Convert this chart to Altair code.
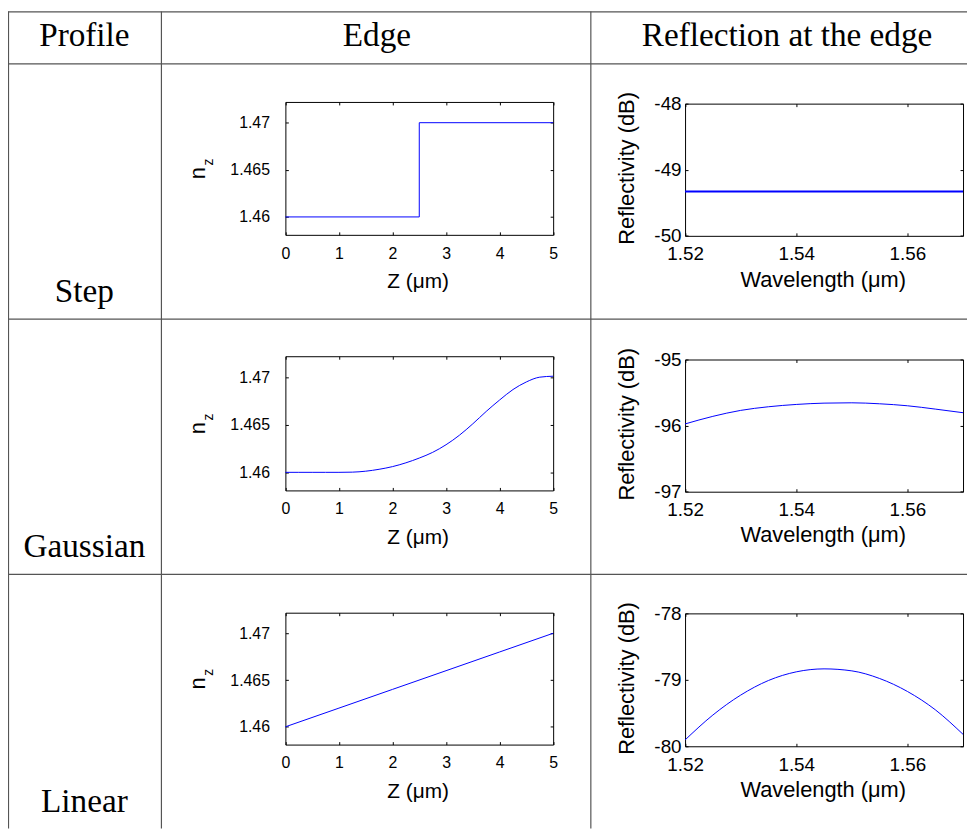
import altair as alt
import pandas as pd

W, H = 967, 824

# ---------------- data ----------------
step_z = [0.0, 2.5, 2.5, 5.0]
step_n = [1.46, 1.46, 1.47, 1.47]

gauss_z = [0.0, 0.25, 0.5, 0.75, 1.0, 1.25, 1.5, 1.75, 2.0, 2.25, 2.5,
           2.75, 3.0, 3.25, 3.5, 3.75, 4.0, 4.25, 4.5, 4.75, 5.0]
gauss_n = [1.4600, 1.4600, 1.4600, 1.4600, 1.4600, 1.46002, 1.46012, 1.46032,
           1.4606, 1.4610, 1.4615, 1.4621, 1.4629, 1.4639, 1.4651, 1.4664,
           1.4676, 1.4687, 1.4695, 1.4700, 1.4701]

lin_z = [0, 1, 2, 3, 4, 5]
lin_n = [1.460, 1.462, 1.464, 1.466, 1.468, 1.470]

wl_step = [1.52, 1.57]
refl_step = [-49.33, -49.33]

wl = [1.52, 1.525, 1.53, 1.535, 1.54, 1.545, 1.55, 1.555, 1.56, 1.565, 1.57]
refl_gauss = [-95.975, -95.86, -95.77, -95.715, -95.68, -95.66,
              -95.655, -95.67, -95.70, -95.75, -95.805]
refl_lin = [-79.905, -79.53, -79.23, -79.01, -78.88, -78.835,
            -78.865, -78.98, -79.175, -79.45, -79.82]

z_ticks = [0, 1, 2, 3, 4, 5]
n_ticks = [1.46, 1.465, 1.47]
wl_ticks = [1.52, 1.54, 1.56]
refl_ticks = [[-50, -49, -48], [-97, -96, -95], [-80, -79, -78]]
refl_domains = [[-50, -48], [-97, -95], [-80, -78]]

header = ["Profile", "Edge", "Reflection at the edge"]
profiles = ["Step", "Gaussian", "Linear"]

# ---------------- layout (pixels in the view) ----------------
LEFT_X = [279.7, 549.7]
RIGHT_X = [682.7, 963.0]
LEFT_Y = [(225.3, 91.3), (483.0, 347.7), (739.3, 606.3)]
RIGHT_Y = [(226.3, 93.0), (484.3, 351.0), (741.0, 607.0)]
N_DOMAIN = [1.4581, 1.4722]
WL_DOMAIN = [1.52, 1.57]

SANS = "Liberation Sans"
SERIF = "Liberation Serif"
BLUE = "#0000ff"


def plot_layers(df, xf, yf, xdom, xr, ydom, yr, xvals, yvals, lab_fs,
                xlabpad, ylabpad, xtitle, xtitle_x, xtitle_y,
                ytitle, ytitle_x, ytitle_y, title_fs, stroke_w, interp, order=None):
    xs = alt.Scale(domain=xdom, range=list(xr), zero=False, nice=False)
    ys = alt.Scale(domain=ydom, range=list(yr), zero=False, nice=False)
    lab = "'' + datum.value"
    common = dict(grid=False, labelFlush=False, labelOverlap=False)

    ax1x = alt.Axis(orient="bottom", offset=yr[0] - H, ticks=False, tickSize=0,
                    domain=True, domainColor="black", domainWidth=1, labels=True,
                    labelFont=SANS, labelFontSize=lab_fs, labelColor="black",
                    labelPadding=xlabpad, labelExpr=lab, values=xvals,
                    title=xtitle, titleFont=SANS, titleFontSize=title_fs,
                    titleFontWeight="normal", titleColor="black",
                    titleX=xtitle_x, titleY=xtitle_y, titleAlign="center",
                    titleBaseline="alphabetic", **common)
    ykw = dict(title="")
    if ytitle:
        ykw = dict(title=ytitle, titleFont=SANS, titleFontSize=title_fs,
                   titleFontWeight="normal", titleColor="black", titleAngle=270,
                   titleX=ytitle_x, titleY=ytitle_y, titleAlign="center",
                   titleBaseline="alphabetic")
    ax1y = alt.Axis(orient="left", offset=-xr[0], ticks=False, tickSize=0,
                    domain=True, domainColor="black", domainWidth=1, labels=True,
                    labelFont=SANS, labelFontSize=lab_fs, labelColor="black",
                    labelPadding=ylabpad, labelExpr=lab, values=yvals,
                    **ykw, **common)
    ax2x = alt.Axis(orient="top", offset=-yr[0], ticks=True, tickSize=3,
                    tickColor="black", tickWidth=1, domain=False, labels=False,
                    values=xvals, title="", **common)
    ax2y = alt.Axis(orient="right", offset=xr[0] - W, ticks=True, tickSize=3,
                    tickColor="black", tickWidth=1, domain=False, labels=False,
                    values=yvals, title="", **common)
    ax3x = alt.Axis(orient="bottom", offset=yr[1] - H, ticks=True, tickSize=3,
                    tickColor="black", tickWidth=1, domain=True,
                    domainColor="black", domainWidth=1, labels=False,
                    values=xvals, title="", **common)
    ax3y = alt.Axis(orient="left", offset=-xr[1], ticks=True, tickSize=3,
                    tickColor="black", tickWidth=1, domain=True,
                    domainColor="black", domainWidth=1, labels=False,
                    values=yvals, title="", **common)

    layers = []
    for i, (ax, ay) in enumerate([(ax1x, ax1y), (ax2x, ax2y), (ax3x, ax3y)]):
        mk = dict(color=BLUE, strokeWidth=stroke_w, interpolate=interp)
        if i > 0:
            mk["opacity"] = 0
        enc = dict(x=alt.X(f"{xf}:Q", scale=xs, axis=ax),
                   y=alt.Y(f"{yf}:Q", scale=ys, axis=ay))
        if order:
            enc["order"] = alt.Order(f"{order}:Q")
        layers.append(alt.Chart(df).mark_line(**mk).encode(**enc))
    return layers


edge_data = [
    pd.DataFrame({"z": step_z, "n": step_n, "i": list(range(len(step_z)))}),
    pd.DataFrame({"z": gauss_z, "n": gauss_n, "i": list(range(len(gauss_z)))}),
    pd.DataFrame({"z": lin_z, "n": lin_n, "i": list(range(len(lin_z)))}),
]
refl_data = [
    pd.DataFrame({"wl": wl_step, "r": refl_step}),
    pd.DataFrame({"wl": wl, "r": refl_gauss}),
    pd.DataFrame({"wl": wl, "r": refl_lin}),
]

layers = []

# table lines
tl = pd.DataFrame({
    "x":  [0.5, 154.7, 587.7, 0, 0, 0, 0],
    "x2": [0.5, 154.7, 587.7, W, W, W, W],
    "y":  [0, 0, 0, 0.5, 53.0, 310.3, 567.7],
    "y2": [H, H, H, 0.5, 53.0, 310.3, 567.7],
})
layers.append(alt.Chart(tl).mark_rule(color="#555555", strokeWidth=1.2).encode(
    x=alt.X("x:Q", scale=None), x2="x2:Q",
    y=alt.Y("y:Q", scale=None), y2="y2:Q"))

# table text
tt = pd.DataFrame({
    "t": header + profiles,
    "x": [77, 372, 785.5, 77, 77, 77],
    "y": [35.0, 35.0, 35.0, 293.0, 550.3, 807.0],
})
layers.append(alt.Chart(tt).mark_text(font=SERIF, fontSize=33.5, align="center",
                                      baseline="alphabetic", color="black").encode(
    x=alt.X("x:Q", scale=None), y=alt.Y("y:Q", scale=None), text="t:N"))

# n_z labels
nz_rows = []
for (yb, yt) in LEFT_Y:
    c = (yb + yt) / 2
    nz_rows.append(("n", LEFT_X[0] - 81.0, c + 4.9, 22))
    nz_rows.append(("z", LEFT_X[0] - 72.7, c - 6.3, 14))
nz = pd.DataFrame(nz_rows, columns=["t", "x", "y", "fs"])
layers.append(alt.Chart(nz).mark_text(font=SANS, angle=270, align="center",
                                      baseline="alphabetic", color="black").encode(
    x=alt.X("x:Q", scale=None), y=alt.Y("y:Q", scale=None), text="t:N",
    size=alt.Size("fs:Q", scale=None)))

for r in range(3):
    yb, yt = LEFT_Y[r]
    layers += plot_layers(edge_data[r], "z", "n", [0, 5], LEFT_X, N_DOMAIN, (yb, yt),
                          z_ticks, n_ticks, 16, 10.5, 16,
                          "Z (\u03bcm)", 413.0, 53.4, "", 0, 0, 21, 1,
                          "linear" if r != 1 else "monotone", order="i")
    yb, yt = RIGHT_Y[r]
    c = (yb + yt) / 2
    layers += plot_layers(refl_data[r], "wl", "r", WL_DOMAIN, RIGHT_X, refl_domains[r], (yb, yt),
                          wl_ticks, refl_ticks[r], 19, 9, 4,
                          "Wavelength (\u03bcm)", 821.5, 50.7,
                          "Reflectivity (dB)", -52.0, c - 1.85, 22,
                          2 if r == 0 else 1, "linear" if r == 0 else "monotone")

chart = alt.layer(*layers).resolve_scale(
    x="independent", y="independent").resolve_axis(
    x="independent", y="independent").properties(
    width=W, height=H, padding=0,
    autosize=alt.AutoSizeParams(type="none")).configure_view(strokeWidth=0)

chart.save("out.html", embed_options={"renderer": "svg", "actions": False})
